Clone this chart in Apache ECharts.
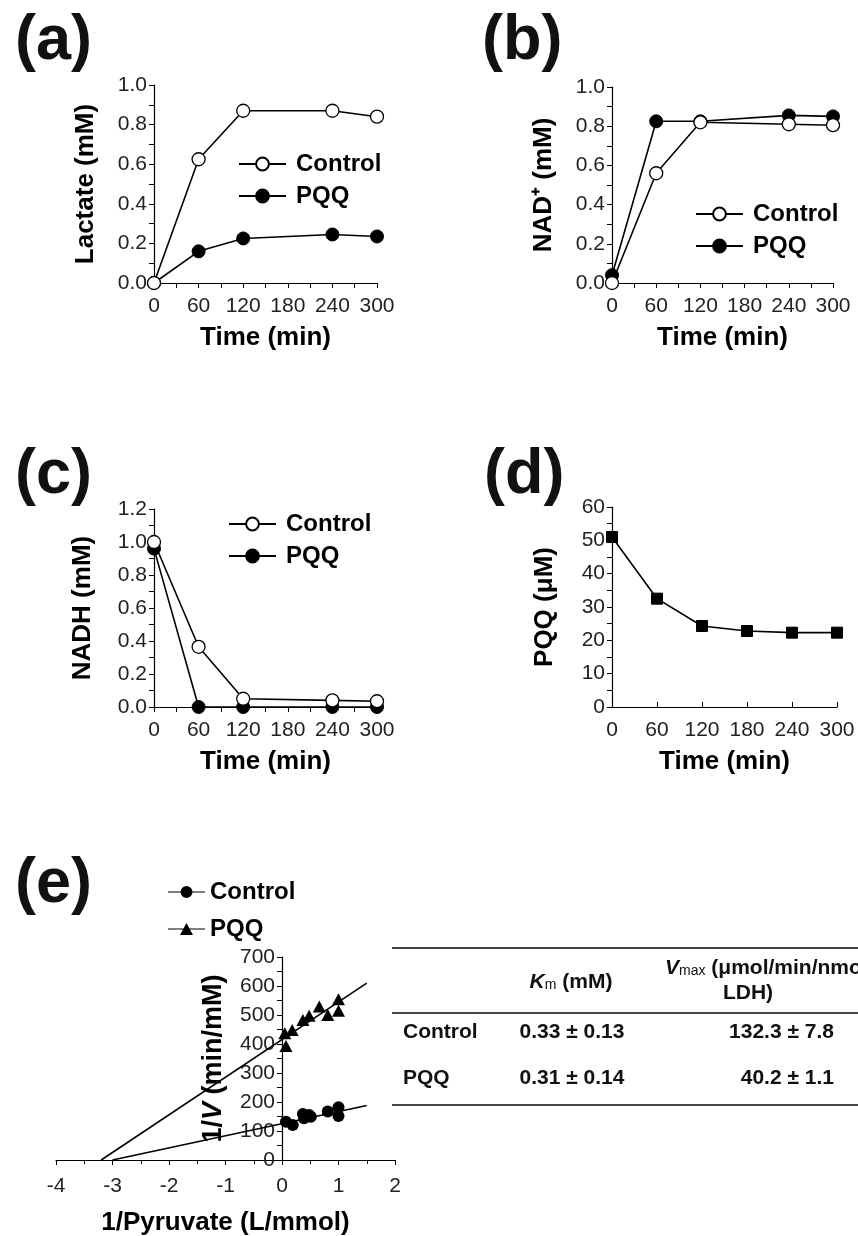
<!DOCTYPE html>
<html>
<head>
<meta charset="utf-8">
<script src="https://cdn.jsdelivr.net/npm/echarts@6/dist/echarts.min.js"></script>
<style>
html,body{margin:0;padding:0;background:#fff;}
#c{width:858px;height:1236px;}
</style>
</head>
<body>
<div id="c"></div>
<script>
// ---------- data ----------
const timeABC = [0, 60, 120, 240, 300];
const lactateControl = [0, 0.625, 0.87, 0.87, 0.84];
const lactatePQQ = [0, 0.16, 0.225, 0.245, 0.235];
const nadControl = [0, 0.56, 0.82, 0.81, 0.805];
const nadPQQ = [0.04, 0.825, 0.825, 0.855, 0.85];
const nadhControl = [1.0, 0.365, 0.05, 0.04, 0.035];
const nadhPQQ = [0.96, 0, 0, 0, 0];
const timeD = [0, 60, 120, 180, 240, 300];
const pqqConc = [51, 32.5, 24.3, 22.8, 22.3, 22.3];

const lbControlX = [0.07, 0.19, 0.37, 0.39, 0.48, 0.51, 0.81, 1.0, 1.0];
const lbControlY = [132, 121, 159, 144, 155, 149, 167, 182, 152];
const lbPQQX = [0.05, 0.07, 0.18, 0.37, 0.48, 0.66, 0.81, 1.0, 1.0];
const lbPQQY = [437, 393, 448, 483, 497, 529, 500, 554, 515];
const fitControlX = [-3.0, 1.5];
const fitControlY = [0, 188];
const fitPQQX = [-3.2, 1.5];
const fitPQQY = [0, 610];

const tableRows = ['Control', 'PQQ'];
const kmValues = ['0.33 ± 0.13', '0.31 ± 0.14'];
const vmaxValues = ['132.3 ± 7.8', '40.2 ± 1.1'];
const panelLabels = ['(a)', '(b)', '(c)', '(d)', '(e)'];

// ---------- helpers ----------
const FONT = '"Liberation Sans", Arial, Helvetica, sans-serif';
const pairs = (xs, ys) => xs.map((x, i) => [x, ys[i]]);
const TICKFONT = 21, TITLEFONT = 26, LEGFONT = 24;

function xAxisTime(gi, inside, minor) {
  return {
    type: 'value', gridIndex: gi, min: 0, max: 300, interval: 60,
    name: 'Time (min)', nameLocation: 'middle', nameGap: 42,
    nameTextStyle: { fontSize: TITLEFONT, fontWeight: 'bold', color: '#000', fontFamily: FONT },
    axisLine: { show: true, onZero: false, lineStyle: { color: '#000', width: 1.2 } },
    axisTick: { show: true, inside: !!inside, length: 5, lineStyle: { color: '#000' } },
    minorTick: { show: !!minor, splitNumber: 2, length: 5, lineStyle: { color: '#000' } },
    axisLabel: { fontSize: TICKFONT, color: '#222', fontFamily: FONT, margin: 13 },
    splitLine: { show: false }, minorSplitLine: { show: false }
  };
}
function yAxisVal(gi, min, max, interval, name, gap, fmt) {
  return {
    type: 'value', gridIndex: gi, min: min, max: max, interval: interval,
    name: name, nameLocation: 'middle', nameGap: gap,
    nameTextStyle: { fontSize: TITLEFONT, fontWeight: 'bold', color: '#000', fontFamily: FONT },
    axisLine: { show: true, onZero: false, lineStyle: { color: '#000', width: 1.2 } },
    axisTick: { show: true, length: 5, lineStyle: { color: '#000' } },
    minorTick: { show: true, splitNumber: 2, length: 5, lineStyle: { color: '#000' } },
    axisLabel: { fontSize: TICKFONT, color: '#222', fontFamily: FONT, margin: 7, formatter: fmt },
    splitLine: { show: false }, minorSplitLine: { show: false }
  };
}
const f1 = v => v.toFixed(1);

function timeSeries(name, gi, xs, ys, open, symbol, size) {
  return {
    type: 'line', name: name, xAxisIndex: gi, yAxisIndex: gi,
    data: pairs(xs, ys), clip: false, z: open ? 4 : 3,
    symbol: symbol || 'circle', symbolSize: size || 13, showSymbol: true,
    lineStyle: { color: '#000', width: 1.6 },
    itemStyle: open ? { color: '#fff', borderColor: '#000', borderWidth: 1.3 }
                    : { color: '#000', borderColor: '#000', borderWidth: 1 },
    emphasis: { disabled: true }, animation: false
  };
}

const legendText = { fontSize: LEGFONT, fontWeight: 'bold', color: '#000', fontFamily: FONT, padding: [0, 0, 0, 5] };
function timeLegend(left, top) {
  return {
    orient: 'vertical', left: left, top: top, padding: 0, itemWidth: 47, itemHeight: 16, itemGap: 8,
    data: ['Control', 'PQQ'], textStyle: legendText, selectedMode: false
  };
}

const iconCircle = 'path://M0,5.4h37v1.2h-37z M24.5,6a6,6 0 1,1 -12,0a6,6 0 1,1 12,0z';
const iconTri = 'path://M0,5.4h37v1.2h-37z M12,12L18.5,0L25,12z';

// ---------- panel (e) layout ----------
const gE = { left: 56, top: 957, width: 339, height: 203 };
const eXMin = -4, eXMax = 2;
const eYOffset = -gE.width * (0 - eXMin) / (eXMax - eXMin);

// table graphics
const tg = [];
const tableLine = y => ({ type: 'line', shape: { x1: 392, y1: y, x2: 858, y2: y }, style: { stroke: '#444', lineWidth: 2 } });
tg.push(tableLine(948), tableLine(1013), tableLine(1105));
const bold20 = { fontSize: 21, fontWeight: 'bold', fill: '#111', fontFamily: FONT };
const richHdr = {
  it: { fontSize: 21, fontWeight: 'bold', fontStyle: 'italic', fontFamily: FONT, fill: '#111' },
  sub: { fontSize: 14, fontWeight: 'normal', fontFamily: FONT, fill: '#111', verticalAlign: 'bottom', lineHeight: 8 },
  b: { fontSize: 21, fontWeight: 'bold', fontFamily: FONT, fill: '#111' }
};
tg.push({ type: 'text', x: 571, y: 982, style: { text: '{it|K}{sub|m}{b| (mM)}', rich: richHdr, align: 'center', verticalAlign: 'middle' } });
tg.push({ type: 'text', x: 665, y: 968, style: { text: '{it|V}{sub|max}{b| (μmol/min/nmol}', rich: richHdr, align: 'left', verticalAlign: 'middle' } });
tg.push({ type: 'text', x: 748, y: 993, style: Object.assign({ text: 'LDH)', align: 'center', verticalAlign: 'middle' }, bold20) });
const rowY = [1032, 1078];
tableRows.forEach((r, i) => {
  tg.push({ type: 'text', x: 403, y: rowY[i], style: Object.assign({ text: r, align: 'left', verticalAlign: 'middle' }, bold20) });
  tg.push({ type: 'text', x: 572, y: rowY[i], style: Object.assign({ text: kmValues[i], align: 'center', verticalAlign: 'middle' }, bold20) });
  tg.push({ type: 'text', x: 834, y: rowY[i], style: Object.assign({ text: vmaxValues[i], align: 'right', verticalAlign: 'middle' }, bold20) });
});
const labelPos = [[15, 10], [482, 10], [15, 444], [484, 444], [15, 853]];
panelLabels.forEach((t, i) => {
  tg.push({ type: 'text', x: labelPos[i][0], y: labelPos[i][1], style: { text: t, fontSize: 63, fontWeight: 'bold', fill: '#111', fontFamily: FONT } });
});

const chart = echarts.init(document.getElementById('c'), null, { renderer: 'canvas' });
const option = {
  animation: false,
  backgroundColor: '#fff',
  textStyle: { fontFamily: FONT },
  grid: [
    { left: 154, top: 85, width: 223, height: 198, outerBoundsMode: 'none' },
    { left: 612, top: 87, width: 221, height: 196, outerBoundsMode: 'none' },
    { left: 154, top: 509, width: 223, height: 198, outerBoundsMode: 'none' },
    { left: 612, top: 507, width: 225, height: 200, outerBoundsMode: 'none' },
    Object.assign({ outerBoundsMode: 'none' }, gE)
  ],
  xAxis: [
    xAxisTime(0, false, true),
    xAxisTime(1, false, true),
    xAxisTime(2, false, true),
    xAxisTime(3, true, false),
    {
      type: 'value', gridIndex: 4, min: eXMin, max: eXMax, interval: 1,
      name: '1/Pyruvate (L/mmol)', nameLocation: 'middle', nameGap: 50,
      nameTextStyle: { fontSize: TITLEFONT, fontWeight: 'bold', color: '#000', fontFamily: FONT },
      axisLine: { show: true, onZero: false, lineStyle: { color: '#000', width: 1.2 } },
      axisTick: { show: true, length: 5, lineStyle: { color: '#000' } },
      minorTick: { show: true, splitNumber: 2, length: 4, lineStyle: { color: '#000' } },
      axisLabel: { fontSize: TICKFONT, color: '#222', fontFamily: FONT, margin: 16 },
      splitLine: { show: false }, minorSplitLine: { show: false }
    }
  ],
  yAxis: [
    yAxisVal(0, 0, 1.0, 0.2, 'Lactate (mM)', 55, f1),
    yAxisVal(1, 0, 1.0, 0.2, 'NAD\u207A (mM)', 55, f1),
    yAxisVal(2, 0, 1.2, 0.2, 'NADH (mM)', 58, f1),
    yAxisVal(3, 0, 60, 10, 'PQQ (μM)', 54),
    Object.assign(yAxisVal(4, 0, 700, 100, '1/{i|V} (min/mM)', 55), {
      offset: eYOffset,
      nameTextStyle: { fontSize: TITLEFONT + 1, fontWeight: 'bold', color: '#000', fontFamily: FONT,
        rich: { i: { fontSize: TITLEFONT + 1, fontWeight: 'bold', fontStyle: 'italic', color: '#000', fontFamily: FONT } } }
    })
  ],
  legend: [
    timeLegend(238, 152),
    timeLegend(695, 202),
    timeLegend(228, 512),
    {
      orient: 'vertical', left: 168, top: 880, padding: 0, itemWidth: 37, itemHeight: 12, itemGap: 13,
      selectedMode: false, formatter: n => n.replace('e-', ''),
      textStyle: { fontSize: LEGFONT, fontWeight: 'bold', color: '#000', fontFamily: FONT, padding: 0 },
      data: [
        { name: 'e-Control', icon: iconCircle, itemStyle: { color: '#000', borderWidth: 0 } },
        { name: 'e-PQQ', icon: iconTri, itemStyle: { color: '#000', borderWidth: 0 } }
      ]
    }
  ],
  series: [
    timeSeries('PQQ', 0, timeABC, lactatePQQ, false),
    timeSeries('Control', 0, timeABC, lactateControl, true),
    timeSeries('PQQ', 1, timeABC, nadPQQ, false),
    timeSeries('Control', 1, timeABC, nadControl, true),
    timeSeries('PQQ', 2, timeABC, nadhPQQ, false),
    timeSeries('Control', 2, timeABC, nadhControl, true),
    timeSeries('PQQ concentration', 3, timeD, pqqConc, false, 'rect', 11),
    {
      type: 'line', xAxisIndex: 4, yAxisIndex: 4, data: pairs(fitControlX, fitControlY),
      symbol: 'none', lineStyle: { color: '#000', width: 1.6 }, clip: false, z: 2, emphasis: { disabled: true }
    },
    {
      type: 'line', xAxisIndex: 4, yAxisIndex: 4, data: pairs(fitPQQX, fitPQQY),
      symbol: 'none', lineStyle: { color: '#000', width: 1.6 }, clip: false, z: 2, emphasis: { disabled: true }
    },
    {
      type: 'scatter', name: 'e-Control', xAxisIndex: 4, yAxisIndex: 4, data: pairs(lbControlX, lbControlY),
      symbol: 'circle', symbolSize: 12, itemStyle: { color: '#000', opacity: 1 }, clip: false, z: 3, emphasis: { disabled: true }
    },
    {
      type: 'scatter', name: 'e-PQQ', xAxisIndex: 4, yAxisIndex: 4, data: pairs(lbPQQX, lbPQQY),
      symbol: 'triangle', symbolSize: [13, 12], itemStyle: { color: '#000', opacity: 1 }, clip: false, z: 3, emphasis: { disabled: true }
    }
  ],
  graphic: tg
};
chart.setOption(option);
</script>
</body>
</html>
